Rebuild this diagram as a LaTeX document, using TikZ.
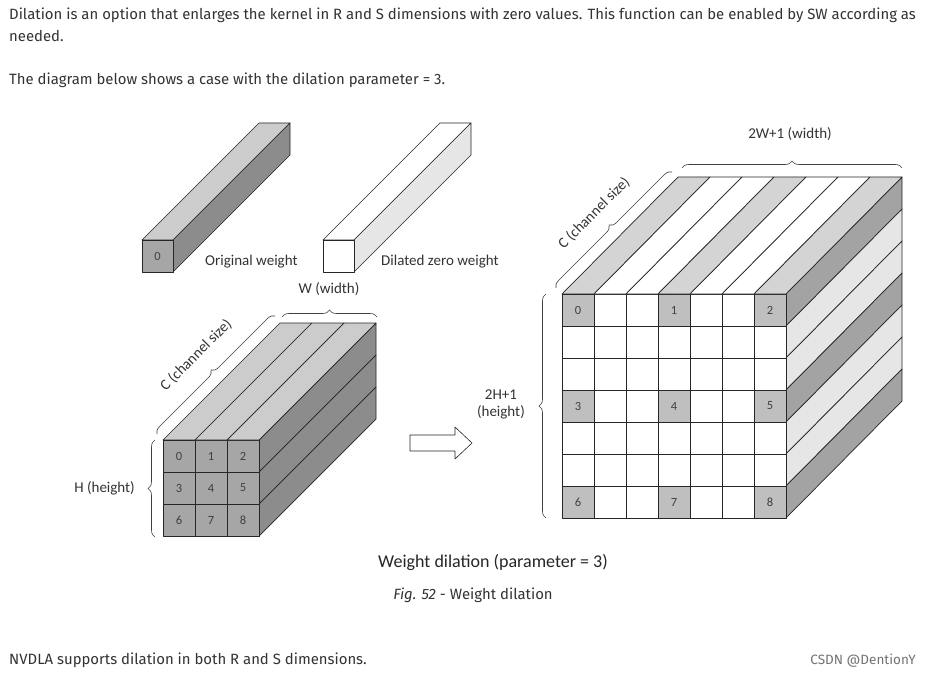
\documentclass[tikz,border=0pt]{standalone}
\usepackage{fontspec}
\setmainfont{Fira Sans}
\newfontfamily\dg{Carlito}
\usetikzlibrary{decorations.pathreplacing}
\definecolor{txt}{HTML}{333333}
\definecolor{ltop}{HTML}{CCCCCC}
\definecolor{lside}{HTML}{8C8C8C}
\definecolor{lfront}{HTML}{A6A6A6}
\definecolor{rtop}{HTML}{D4D4D4}
\definecolor{rside}{HTML}{A3A3A3}
\definecolor{zside}{HTML}{E6E6E6}
\definecolor{rfront}{HTML}{BFBFBF}
\begin{document}
\begin{tikzpicture}[x=1pt,y=1pt,
  para/.style={anchor=base west,text=txt,font=\fontsize{14.9}{17}\selectfont,inner sep=0},
  lab/.style={text=black!80,font=\dg\fontsize{15}{17}\selectfont,inner sep=1pt},
  num/.style={font=\dg\fontsize{12.5}{14}\selectfont,text=black!75},
  ed/.style={draw=black!85,line width=0.7pt,line join=round},
  br/.style={decorate,decoration={brace,amplitude=7pt},draw=black!75,line width=0.6pt}]
\useasboundingbox (0,0) rectangle (932,-674);
\fill[white] (0,0) rectangle (932,-674);
% text
\node[para] (p1) at (9,-20) {Dilation is an option that enlarges the kernel in R and S dimensions with zero values. This function can be enabled by SW according as};
\node[para] (p2) at (9,-42) {needed.};
\node[para] (p3) at (9,-85) {The diagram below shows a case with the dilation parameter = 3.};
\node[para] (p4) at (9,-664) {NVDLA supports dilation in both R and S dimensions.};
\node[anchor=base east,text=black!55,font=\fontsize{13.5}{15}\selectfont,inner sep=0] (wm) at (916,-664) {CSDN @DentionY};
% small original
\filldraw[ed,fill=ltop] (142,-240) -- ++(117,117) -- ++(31,0) -- (173,-240) -- cycle;
\filldraw[ed,fill=lside] (173,-240) -- ++(117,117) -- ++(0,-32) -- (173,-272) -- cycle;
\filldraw[ed,fill=lfront] (142,-240) rectangle (173,-272);
\node[num] (o0) at (157.5,-256) {0};
\node[lab,anchor=west] (ow) at (204,-262) {Original weight};
% small dilated
\filldraw[ed,fill=white] (323,-240) -- ++(117,117) -- ++(31,0) -- (354,-240) -- cycle;
\filldraw[ed,fill=zside] (354,-240) -- ++(117,117) -- ++(0,-32) -- (354,-272) -- cycle;
\filldraw[ed,fill=white] (323,-240) rectangle (354,-272);
\node[lab,anchor=west] (dw) at (380,-262) {Dilated zero weight};
% left cube
\foreach \i in {0,1,2}{
  \filldraw[ed,fill=ltop] (163+32*\i,-440) -- ++(117,117) -- ++(32,0) -- (195+32*\i,-440) -- cycle;
  \filldraw[ed,fill=lside] (259,-440-32*\i) -- ++(117,117) -- ++(0,-32) -- (259,-472-32*\i) -- cycle;
  \foreach \j in {0,1,2}{
    \filldraw[ed,fill=lfront] (163+32*\j,-440-32*\i) rectangle ++(32,-32);
  }
}
\foreach \i in {0,1,2}{\foreach \j in {0,1,2}{
  \pgfmathtruncatemacro\n{3*\i+\j}
  \node[num] (l\n) at (179+32*\j,-456-32*\i) {\n};
}}
\draw[br] (155,-537) -- (155,-440);
\node[lab,anchor=east] (hl) at (136,-488) {H (height)};
\draw[br] (282,-317) -- (377,-317);
\node[lab] (wl) at (329,-289) {W (width)};
\draw[br] (157,-434) -- (275,-316);
\node[lab,rotate=45] (cl) at (196,-355) {C (channel size)};
% arrow
\draw[ed,fill=white,line width=0.6pt] (410,-435) -- (455,-435) -- (455,-427) -- (472,-443) -- (455,-459) -- (455,-451) -- (410,-451) -- cycle;
% right cube
\foreach \i in {0,...,6}{
  \pgfmathtruncatemacro\o{mod(\i,3)==0 ? 1 : 0}
  \ifnum\o=1 \def\tc{rtop}\def\sc{rside}\else\def\tc{white}\def\sc{zside}\fi
  \filldraw[ed,fill=\tc] (562+32*\i,-294) -- ++(116,117) -- ++(32,0) -- (594+32*\i,-294) -- cycle;
  \filldraw[ed,fill=\sc] (786,-294-32*\i) -- ++(116,117) -- ++(0,-32) -- (786,-326-32*\i) -- cycle;
  \foreach \j in {0,...,6}{
    \pgfmathtruncatemacro\p{(mod(\i,3)==0 && mod(\j,3)==0) ? 1 : 0}
    \ifnum\p=1 \def\fc{rfront}\else\def\fc{white}\fi
    \filldraw[ed,fill=\fc] (562+32*\j,-294-32*\i) rectangle ++(32,-32);
  }
}
\foreach \i in {0,1,2}{\foreach \j in {0,1,2}{
  \pgfmathtruncatemacro\n{3*\i+\j}
  \node[num] (r\n) at (578+96*\j,-310-96*\i) {\n};
}}
\draw[br] (546,-518) -- (546,-294);
\node[lab,align=center,anchor=east] (hr) at (526,-404) {2H+1\\(height)};
\draw[br] (682,-168) -- (902,-168);
\node[lab] (wr) at (790,-134) {2W+1 (width)};
\draw[br] (556,-288) -- (672,-172);
\node[lab,rotate=45] (cr) at (594,-213) {C (channel size)};
% captions
\node[font=\dg\fontsize{18}{21}\selectfont,text=black!85] (cap) at (493,-562) {Weight dilation (parameter = 3)};
\node[font=\fontsize{14.9}{17}\selectfont,text=txt] (fig) at (473,-595) {\textit{Fig. 52} - Weight dilation};
\end{tikzpicture}
\end{document}
